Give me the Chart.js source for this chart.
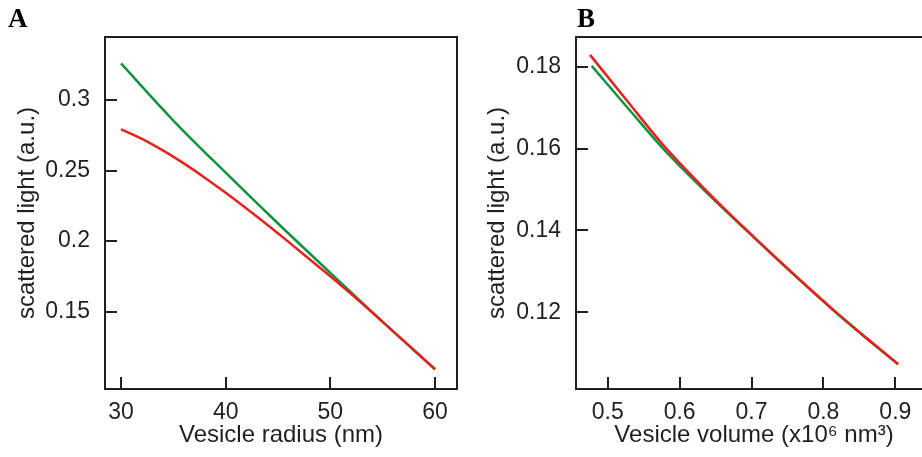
<!DOCTYPE html>
<html>
<head>
<meta charset="utf-8">
<script src="https://cdn.jsdelivr.net/npm/chart.js@4/dist/chart.umd.min.js"></script>
<style>
  html, body { margin: 0; padding: 0; background: #fff; }
  body { width: 922px; height: 457px; overflow: hidden; position: relative; }
  .panel { position: absolute; top: 0; }
  .letter { position: absolute; font-family: "Liberation Serif", "Times New Roman", serif; font-weight: bold; font-size: 27px; line-height: 27px; color: #000; }
</style>
</head>
<body>
<div class="panel" style="left:0px"><canvas id="chartA" width="470" height="457"></canvas></div>
<div class="panel" style="left:460px"><canvas id="chartB" width="480" height="457"></canvas></div>
<div class="letter" style="left:8px; top:5px">A</div>
<div class="letter" style="left:577px; top:5px">B</div>

<script>
"use strict"
//Panel A - radie
const radiusGreen = [30, 35, 40, 45, 50, 55, 60];
const lightGreenA = [0.326, 0.2855, 0.2485, 0.2125, 0.1775, 0.1428, 0.1092];
const radiusRed = [30, 32, 34, 36, 38, 40, 43, 46, 49, 52, 55, 58, 60];
const lightRedA = [0.2793, 0.2725, 0.2643, 0.2551, 0.245, 0.2343, 0.2173, 0.1995, 0.1812, 0.1625, 0.1428, 0.1227, 0.1092];
const xTicksA = [30, 40, 50, 60];
const yTicksA = [0.15, 0.2, 0.25, 0.3];

//Panel B - volym
const volumeGreen = [0.4777, 0.53, 0.577, 0.635, 0.693, 0.755, 0.817, 0.86, 0.904];
const lightGreenB = [0.1802, 0.1695, 0.16, 0.1497, 0.14, 0.1298, 0.12, 0.1136, 0.1073];
const volumeRed = [0.4754, 0.53, 0.577, 0.635, 0.693, 0.755, 0.817, 0.86, 0.904];
const lightRedB = [0.1829, 0.171, 0.1609, 0.1501, 0.1401, 0.1299, 0.1201, 0.1137, 0.1073];
const xTicksB = [0.5, 0.6, 0.7, 0.8, 0.9];
const yTicksB = [0.12, 0.14, 0.16, 0.18];

const ink = "#231f20";
const green = "#0f9343";
const red = "#e3231c";

//x/y till punkter
function toPoints(xs, ys) {
    return xs.map((x, i) => ({ x: x, y: ys[i] }));
}

//Ram och inåtvända ticks
const boxPlugin = {
    id: "boxPlugin",
    afterDraw(chart) {
        const ctx = chart.ctx;
        const a = chart.chartArea;
        ctx.save();
        ctx.strokeStyle = ink;
        ctx.lineWidth = 2;
        ctx.strokeRect(a.left, a.top, a.right - a.left, a.bottom - a.top);
        const xs = chart.scales.x;
        xs.ticks.forEach(t => {
            const px = Math.round(xs.getPixelForValue(t.value));
            ctx.beginPath();
            ctx.moveTo(px, a.bottom);
            ctx.lineTo(px, a.bottom - 12);
            ctx.stroke();
        });
        const ys = chart.scales.y;
        ys.ticks.forEach(t => {
            const py = Math.round(ys.getPixelForValue(t.value));
            ctx.beginPath();
            ctx.moveTo(a.left, py);
            ctx.lineTo(a.left + 12, py);
            ctx.stroke();
        });
        ctx.restore();
    }
};

function makeChart(id, opts) {
    const ctx = document.getElementById(id).getContext("2d");
    return new Chart(ctx, {
        type: "scatter",
        data: {
            datasets: [
                {
                    data: toPoints(opts.redX, opts.redY),
                    showLine: true,
                    borderColor: red,
                    borderWidth: 2.5,
                    pointRadius: 0,
                    cubicInterpolationMode: "monotone",
                    order: 0
                },
                {
                    data: toPoints(opts.greenX, opts.greenY),
                    showLine: true,
                    borderColor: green,
                    borderWidth: 2.5,
                    pointRadius: 0,
                    cubicInterpolationMode: "monotone",
                    order: 1
                }
            ]
        },
        options: {
            responsive: false,
            animation: false,
            devicePixelRatio: 1,
            layout: { padding: { top: 37, right: opts.padRight, left: 0, bottom: 0 } },
            plugins: { legend: { display: false }, tooltip: { enabled: false } },
            scales: {
                x: {
                    type: "linear",
                    min: opts.xMin,
                    max: opts.xMax,
                    grid: { display: false, drawTicks: false },
                    border: { display: false },
                    afterBuildTicks: s => { s.ticks = opts.xTicks.map(v => ({ value: v })); },
                    afterFit: s => { s.height = 68; },
                    ticks: {
                        color: ink,
                        padding: 10,
                        maxRotation: 0,
                        font: { family: "'Liberation Sans', Arial, sans-serif", size: 23 },
                        callback: v => String(v)
                    },
                    title: {
                        display: true,
                        text: opts.xTitle,
                        color: ink,
                        padding: { top: 0, bottom: 7 },
                        font: { family: "'Liberation Sans', Arial, sans-serif", size: 24 }
                    }
                },
                y: {
                    type: "linear",
                    min: opts.yMin,
                    max: opts.yMax,
                    grid: { display: false, drawTicks: false },
                    border: { display: false },
                    afterBuildTicks: s => { s.ticks = opts.yTicks.map(v => ({ value: v })); },
                    afterFit: s => { s.width = opts.yWidth; },
                    ticks: {
                        color: ink,
                        padding: 15,
                        font: { family: "'Liberation Sans', Arial, sans-serif", size: 23 },
                        callback: v => String(v)
                    },
                    title: {
                        display: true,
                        text: "scattered light (a.u.)",
                        color: ink,
                        padding: { top: opts.yTitlePad, bottom: 0 },
                        font: { family: "'Liberation Sans', Arial, sans-serif", size: 24 }
                    }
                }
            }
        },
        plugins: [boxPlugin]
    });
}

makeChart("chartA", {
    redX: radiusRed, redY: lightRedA,
    greenX: radiusGreen, greenY: lightGreenA,
    xTicks: xTicksA, yTicks: yTicksA,
    xMin: 28.47, xMax: 62.1,
    yMin: 0.0952, yMax: 0.3447,
    padRight: 13, yWidth: 105, yTitlePad: 13,
    xTitle: "Vesicle radius (nm)"
});

makeChart("chartB", {
    redX: volumeRed, redY: lightRedB,
    greenX: volumeGreen, greenY: lightGreenB,
    xTicks: xTicksB, yTicks: yTicksB,
    xMin: 0.4559, xMax: 0.951,
    yMin: 0.10126, yMax: 0.18726,
    padRight: 8, yWidth: 116, yTitlePad: 23,
    xTitle: "Vesicle volume (x10\u2076 nm\u00b3)"
});
</script>
</body>
</html>
